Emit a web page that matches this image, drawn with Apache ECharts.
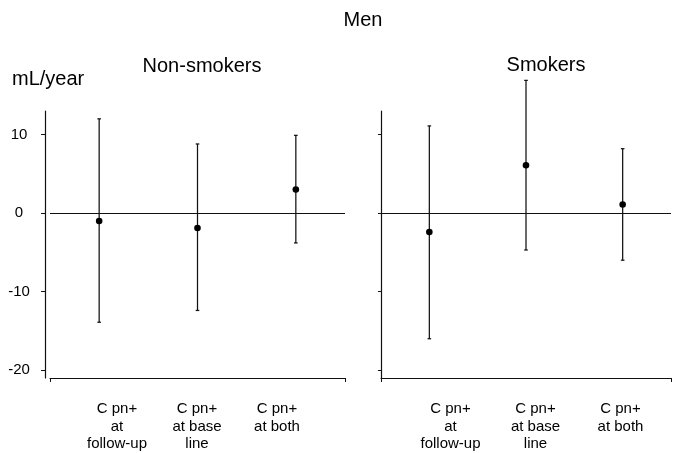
<!DOCTYPE html>
<html>
<head>
<meta charset="utf-8">
<script src="https://cdn.jsdelivr.net/npm/echarts@6/dist/echarts.min.js"></script>
<style>
  html, body { margin: 0; padding: 0; background: #fff; }
  #chart { width: 677px; height: 453px; }
</style>
</head>
<body>
<div id="chart"></div>
<script>
// Groups on the horizontal axis
const categories = ['C pn+\nat\nfollow-up', 'C pn+\nat base\nline', 'C pn+\nat both'];

// Non-smokers: mean change with lower / upper interval limits (mL/year)
const nonSmokersMean = [-1.0, -1.9, 3.0];
const nonSmokersLow = [-13.9, -12.4, -3.8];
const nonSmokersHigh = [12.0, 8.8, 9.9];

// Smokers
const smokersMean = [-2.4, 6.1, 1.1];
const smokersLow = [-16.0, -4.7, -6.0];
const smokersHigh = [11.1, 16.9, 8.2];

// Value axis ticks
const yTicks = [-20, -10, 0, 10];

const FONT = '"Liberation Sans", Arial, sans-serif';
const INK = '#111';

function rows(mean, low, high) {
  return mean.map((m, i) => [i, m, low[i], high[i]]);
}

// Vertical interval line with end caps and a dot at the mean
function renderErrorBar(params, api) {
  const x = api.value(0);
  const pM = api.coord([x, api.value(1)]);
  const pLo = api.coord([x, api.value(2)]);
  const pHi = api.coord([x, api.value(3)]);
  const cap = 1.8;
  const ls = { stroke: INK, lineWidth: 1.25 };
  return {
    type: 'group',
    children: [
      { type: 'line', shape: { x1: pHi[0], y1: pHi[1], x2: pLo[0], y2: pLo[1] }, style: ls },
      { type: 'line', shape: { x1: pHi[0] - cap, y1: pHi[1], x2: pHi[0] + cap, y2: pHi[1] }, style: ls },
      { type: 'line', shape: { x1: pLo[0] - cap, y1: pLo[1], x2: pLo[0] + cap, y2: pLo[1] }, style: ls },
      { type: 'circle', shape: { cx: pM[0], cy: pM[1], r: 3.3 }, style: { fill: '#000' } }
    ]
  };
}

const zeroLine = {
  silent: true,
  symbol: 'none',
  label: { show: false },
  lineStyle: { color: INK, width: 1, type: 'solid' },
  data: [{ yAxis: 0 }]
};

function valueAxis(gridIndex, offset, withLabels) {
  return {
    type: 'value', gridIndex, min: -21, max: 13, offset,
    splitLine: { show: false },
    axisLine: { show: true, lineStyle: { color: INK, width: 1.2 } },
    axisTick: { show: true, length: withLabels ? 4 : 3, customValues: yTicks, lineStyle: { color: INK } },
    axisLabel: withLabels
      ? { show: true, customValues: yTicks, fontSize: 15, fontFamily: FONT, color: '#000', align: 'center', margin: 26 }
      : { show: false }
  };
}

function plotCategoryAxis(gridIndex) {
  return {
    type: 'category', gridIndex, data: categories, position: 'bottom',
    axisLine: { show: true, onZero: false, lineStyle: { color: INK, width: 1.2 } },
    axisTick: { show: true, length: 4, interval: (i) => i === 0, lineStyle: { color: INK } },
    axisLabel: { show: false }
  };
}

function labelCategoryAxis(gridIndex) {
  return {
    type: 'category', gridIndex, data: categories, position: 'bottom',
    axisLine: { show: false }, axisTick: { show: false },
    axisLabel: { show: true, interval: 0, fontSize: 15, lineHeight: 17.5, fontFamily: FONT, color: '#000', margin: 26 }
  };
}

function hiddenValueAxis(gridIndex) {
  return { type: 'value', gridIndex, show: false, min: -21, max: 13 };
}

const titleStyle = { fontSize: 20, fontWeight: 'normal', fontFamily: FONT, color: '#000' };

const option = {
  animation: false,
  backgroundColor: '#fff',
  title: [
    { text: 'Men', left: 363, top: 10, textAlign: 'center', padding: 0, textStyle: titleStyle },
    { text: 'Non-smokers', left: 202, top: 56, textAlign: 'center', padding: 0, textStyle: titleStyle },
    { text: 'Smokers', left: 546, top: 55, textAlign: 'center', padding: 0, textStyle: titleStyle },
    { text: 'mL/year', left: 12, top: 69, padding: 0, textStyle: titleStyle }
  ],
  grid: [
    { left: 50, top: 111, width: 295, height: 267 },
    { left: 381, top: 111, width: 290, height: 267 },
    { left: 77, top: 111, width: 240, height: 267 },
    { left: 408, top: 111, width: 255, height: 267 }
  ],
  xAxis: [plotCategoryAxis(0), plotCategoryAxis(1), labelCategoryAxis(2), labelCategoryAxis(3)],
  yAxis: [valueAxis(0, 5, true), valueAxis(1, 0, false), hiddenValueAxis(2), hiddenValueAxis(3)],
  series: [
    {
      name: 'Non-smokers', type: 'custom', xAxisIndex: 0, yAxisIndex: 0, clip: false,
      renderItem: renderErrorBar, data: rows(nonSmokersMean, nonSmokersLow, nonSmokersHigh),
      markLine: zeroLine
    },
    {
      name: 'Smokers', type: 'custom', xAxisIndex: 1, yAxisIndex: 1, clip: false,
      renderItem: renderErrorBar, data: rows(smokersMean, smokersLow, smokersHigh),
      markLine: zeroLine
    }
  ]
};

const chart = echarts.init(document.getElementById('chart'), null, { renderer: 'canvas' });
chart.setOption(option);
</script>
</body>
</html>
